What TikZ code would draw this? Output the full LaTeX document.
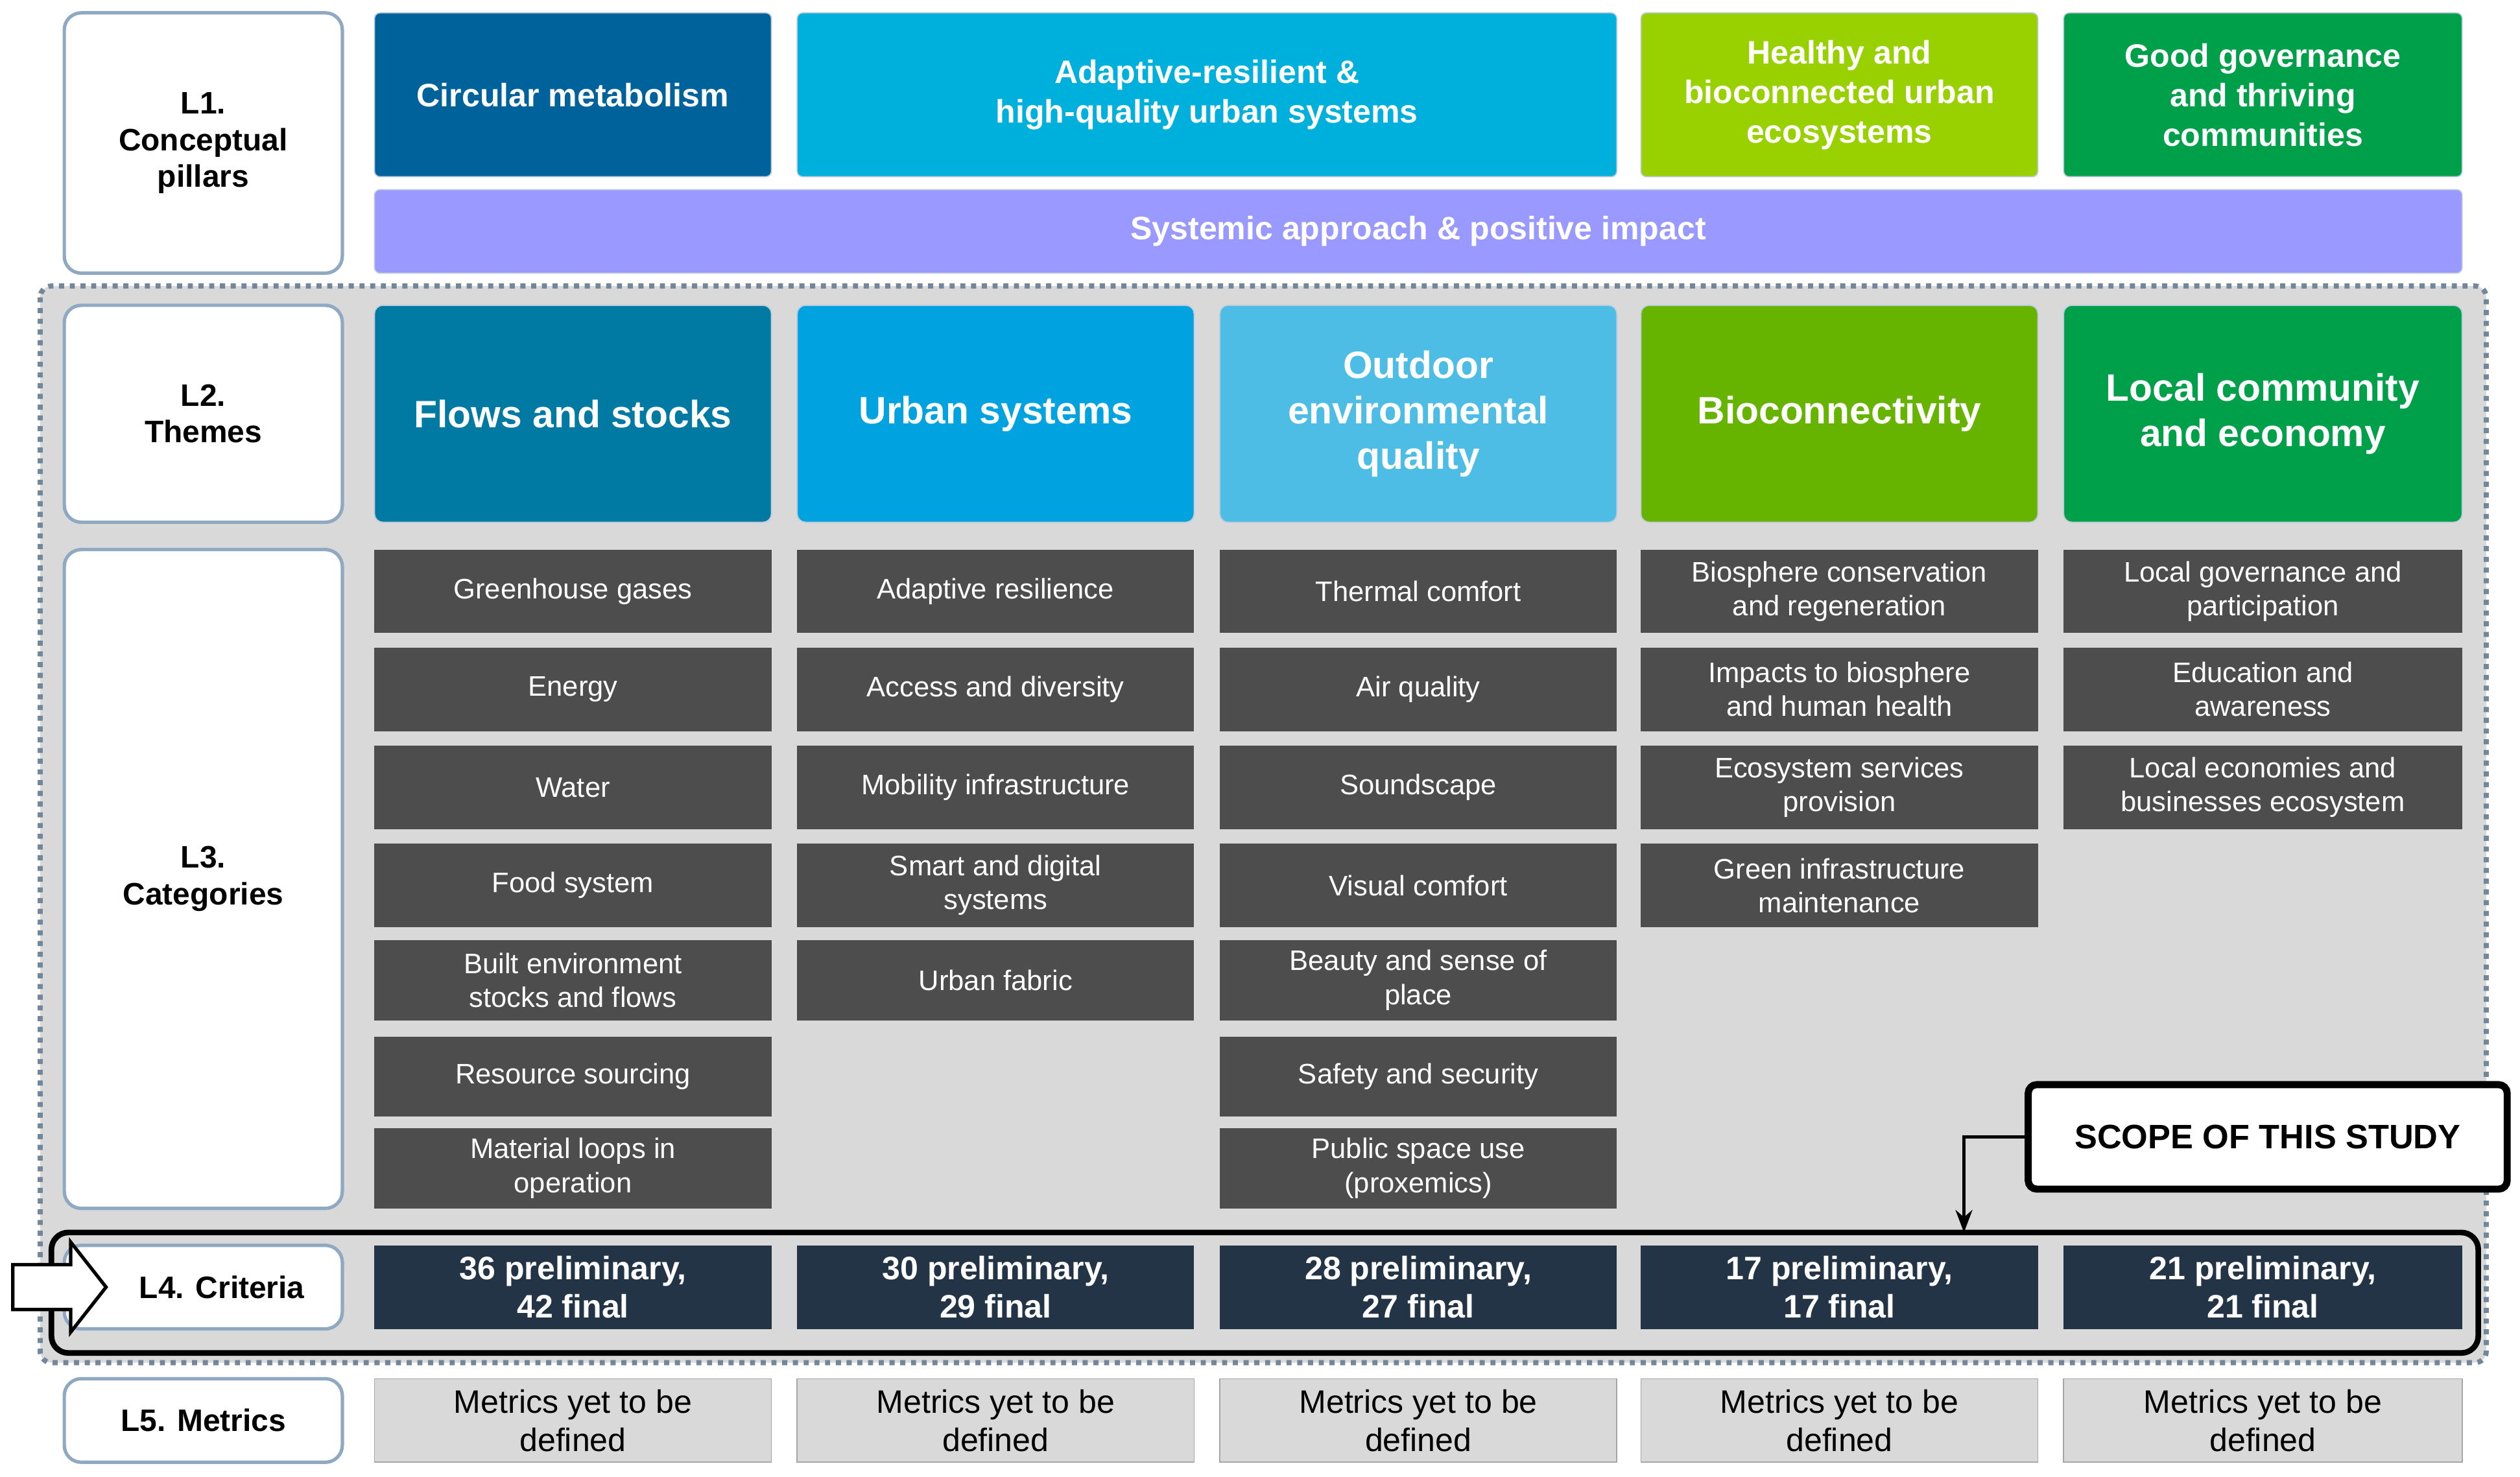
\documentclass[tikz,border=0pt]{standalone}
\usepackage{fontspec}
\setmainfont{Liberation Sans}
\usetikzlibrary{arrows.meta}
\definecolor{lblbd}{HTML}{8EA9C1}
\definecolor{pCM}{HTML}{00629B}
\definecolor{pAR}{HTML}{00B0DC}
\definecolor{pHB}{HTML}{99D100}
\definecolor{pGG}{HTML}{00A04A}
\definecolor{tFS}{HTML}{0079A3}
\definecolor{tUS}{HTML}{00A3DF}
\definecolor{tOE}{HTML}{4DBDE6}
\definecolor{tBC}{HTML}{66B300}
\definecolor{tLC}{HTML}{00A04A}
\definecolor{cat}{HTML}{4D4D4D}
\definecolor{crit}{HTML}{243447}
\definecolor{sys}{HTML}{9999FF}
\definecolor{area}{HTML}{D9D9D9}
\tikzset{
  lbl/.style={draw=lblbd,line width=1.2pt,fill=white,rounded corners=6pt,font=\bfseries\fontsize{11}{13}\selectfont,align=center},
  pil/.style={draw=lblbd!60,fill=#1,rounded corners=2pt,text=white,font=\bfseries\fontsize{11.5}{14}\selectfont,align=center},
  thm/.style={draw=lblbd!60,fill=#1,rounded corners=3pt,text=white,font=\bfseries\fontsize{13.5}{16}\selectfont,align=center},
  cat/.style={fill=cat,text=white,font=\fontsize{10}{12}\selectfont,align=center},
  crit/.style={fill=crit,text=white,font=\bfseries\fontsize{11.5}{13.5}\selectfont,align=center},
  met/.style={draw=gray!70,fill=area,font=\fontsize{11.5}{13.5}\selectfont,align=center},
}
\newcommand\bx[7]{\node[#6,inner sep=0pt,minimum width={(#4-#2)*0.02cm},minimum height={(#5-#3)*0.02cm}] (#1) at ({(#2+#4)/2},{(#3+#5)/2}) {#7};}
\begin{document}
\begin{tikzpicture}[x=0.02cm,y=-0.02cm]
\useasboundingbox (0,0) rectangle (1568,919);
% grey area
\draw[fill=area,draw=lblbd!80!black,line width=1.8pt,dotted,rounded corners=4pt] (25,178) rectangle (1547,848);
% L1
\bx{l1}{40}{8}{213}{170}{lbl}{L1.\\Conceptual\\pillars}
\bx{p1}{233}{8}{480}{110}{pil=pCM}{Circular metabolism}
\bx{p2}{496}{8}{1006}{110}{pil=pAR}{Adaptive-resilient \&\\high-quality urban systems}
\bx{p3}{1021}{8}{1268}{110}{pil=pHB}{Healthy and\\bioconnected urban\\ecosystems}
\bx{p4}{1284}{8}{1532}{110}{pil=pGG}{Good governance\\and thriving\\communities}
\bx{sys}{233}{118}{1532}{170}{pil=sys}{Systemic approach \& positive impact}
% L2
\bx{l2}{40}{190}{213}{325}{lbl}{L2.\\Themes}
\bx{t1}{233}{190}{480}{325}{thm=tFS}{Flows and stocks}
\bx{t2}{496}{190}{743}{325}{thm=tUS}{Urban systems}
\bx{t3}{759}{190}{1006}{325}{thm=tOE}{Outdoor\\environmental\\quality}
\bx{t4}{1021}{190}{1268}{325}{thm=tBC}{Bioconnectivity}
\bx{t5}{1284}{190}{1532}{325}{thm=tLC}{Local community\\and economy}
% L3
\bx{l3}{40}{342}{213}{752}{lbl}{L3.\\Categories}
\bx{c11}{233}{342}{480}{394}{cat}{Greenhouse gases}
\bx{c12}{233}{403}{480}{455}{cat}{Energy}
\bx{c13}{233}{464}{480}{516}{cat}{Water}
\bx{c14}{233}{525}{480}{577}{cat}{Food system}
\bx{c15}{233}{585}{480}{635}{cat}{Built environment\\stocks and flows}
\bx{c16}{233}{645}{480}{695}{cat}{Resource sourcing}
\bx{c17}{233}{702}{480}{752}{cat}{Material loops in\\operation}
\bx{c21}{496}{342}{743}{394}{cat}{Adaptive resilience}
\bx{c22}{496}{403}{743}{455}{cat}{Access and diversity}
\bx{c23}{496}{464}{743}{516}{cat}{Mobility infrastructure}
\bx{c24}{496}{525}{743}{577}{cat}{Smart and digital\\systems}
\bx{c25}{496}{585}{743}{635}{cat}{Urban fabric}
\bx{c31}{759}{342}{1006}{394}{cat}{Thermal comfort}
\bx{c32}{759}{403}{1006}{455}{cat}{Air quality}
\bx{c33}{759}{464}{1006}{516}{cat}{Soundscape}
\bx{c34}{759}{525}{1006}{577}{cat}{Visual comfort}
\bx{c35}{759}{585}{1006}{635}{cat}{Beauty and sense of\\place}
\bx{c36}{759}{645}{1006}{695}{cat}{Safety and security}
\bx{c37}{759}{702}{1006}{752}{cat}{Public space use\\(proxemics)}
\bx{c41}{1021}{342}{1268}{394}{cat}{Biosphere conservation\\and regeneration}
\bx{c42}{1021}{403}{1268}{455}{cat}{Impacts to biosphere\\and human health}
\bx{c43}{1021}{464}{1268}{516}{cat}{Ecosystem services\\provision}
\bx{c44}{1021}{525}{1268}{577}{cat}{Green infrastructure\\maintenance}
\bx{c51}{1284}{342}{1532}{394}{cat}{Local governance and\\participation}
\bx{c52}{1284}{403}{1532}{455}{cat}{Education and\\awareness}
\bx{c53}{1284}{464}{1532}{516}{cat}{Local economies and\\businesses ecosystem}
% L4
\draw[line width=2pt,rounded corners=6pt] (32,767) rectangle (1542,842);
\coordinate (l4top) at (1222,767);
\bx{l4}{40}{775}{213}{827}{lbl}{\hspace{1.2em}L4. Criteria}
\bx{k1}{233}{775}{480}{827}{crit}{36 preliminary,\\42 final}
\bx{k2}{496}{775}{743}{827}{crit}{30 preliminary,\\29 final}
\bx{k3}{759}{775}{1006}{827}{crit}{28 preliminary,\\27 final}
\bx{k4}{1021}{775}{1268}{827}{crit}{17 preliminary,\\17 final}
\bx{k5}{1284}{775}{1532}{827}{crit}{21 preliminary,\\21 final}
\draw[fill=white,line width=1.2pt] (8,787) -- (44,787) -- (44,773) -- (66,801) -- (44,829) -- (44,815) -- (8,815) -- cycle;
% scope
\bx{scope}{1262}{675}{1560}{740}{draw,line width=2.5pt,rounded corners=3pt,fill=white,font=\bfseries\fontsize{12}{14}\selectfont}{SCOPE OF THIS STUDY}
\draw[line width=1pt,-{Stealth[length=8pt]}] (scope.west) -| (l4top);
% L5
\bx{l5}{40}{858}{213}{910}{lbl}{L5. Metrics}
\bx{m1}{233}{858}{480}{910}{met}{Metrics yet to be\\defined}
\bx{m2}{496}{858}{743}{910}{met}{Metrics yet to be\\defined}
\bx{m3}{759}{858}{1006}{910}{met}{Metrics yet to be\\defined}
\bx{m4}{1021}{858}{1268}{910}{met}{Metrics yet to be\\defined}
\bx{m5}{1284}{858}{1532}{910}{met}{Metrics yet to be\\defined}
\end{tikzpicture}
\end{document}
